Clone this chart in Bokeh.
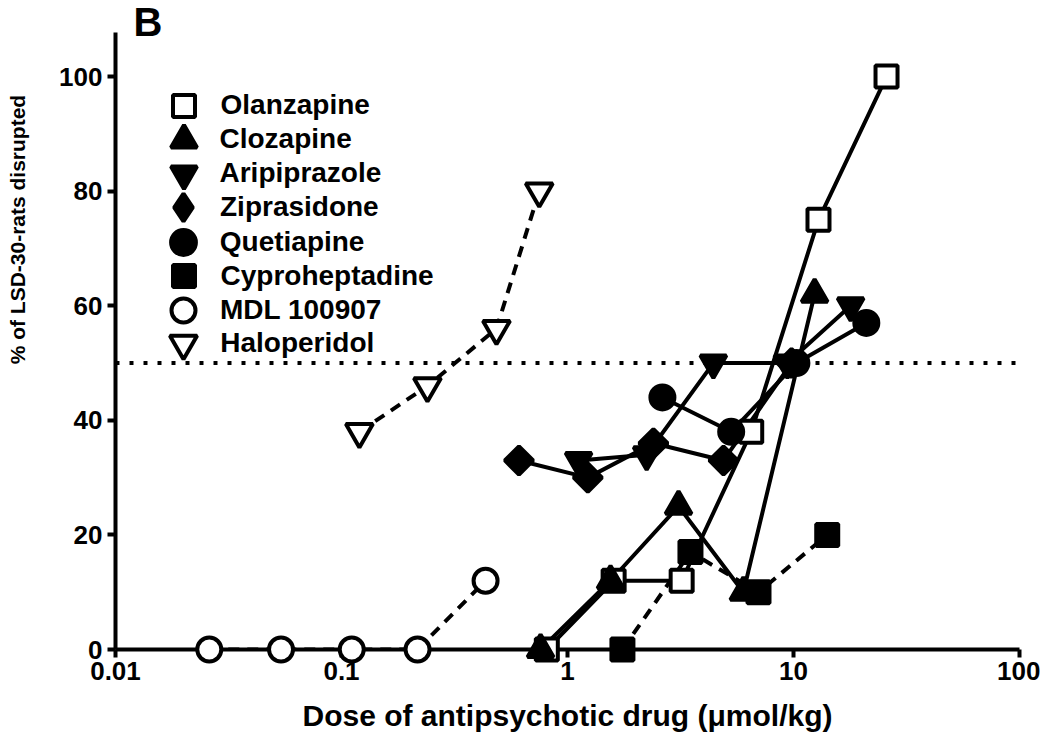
from math import pi
from bokeh.plotting import figure
from bokeh.models import (FixedTicker, CustomJSTickFormatter, Span, Legend,
                          LegendItem, Range1d, ColumnDataSource)
from bokeh.core.properties import value
from bokeh.embed import file_html
from bokeh.resources import INLINE

# ---------------- data ----------------
olanzapine_x = [0.81, 1.6, 3.2, 6.5, 12.9, 25.8]
olanzapine_y = [0, 12, 12, 38, 75, 100]
clozapine_x = [0.76, 1.55, 3.1, 6.0, 12.4]
clozapine_y = [0, 12, 25, 10, 62]
aripiprazole_x = [1.12, 2.24, 4.42, 9.4, 17.9]
aripiprazole_y = [33, 34, 50, 50, 60]
ziprasidone_x = [0.61, 1.23, 2.40, 4.9, 9.8]
ziprasidone_y = [33, 30, 36, 33, 50]
quetiapine_x = [2.63, 5.3, 10.3, 21.0]
quetiapine_y = [44, 38, 50, 57]
cyproheptadine_x = [1.75, 3.5, 7.0, 14.1]
cyproheptadine_y = [0, 17, 10, 20]
mdl_x = [0.026, 0.054, 0.111, 0.217, 0.434]
mdl_y = [0, 0, 0, 0, 12]
haloperidol_x = [0.12, 0.24, 0.485, 0.75]
haloperidol_y = [38, 46, 56, 80]

x_ticks = [0.01, 0.1, 1, 10, 100]
y_ticks = [0, 20, 40, 60, 80, 100]
threshold = 50

FONT = "Liberation Sans"

# name, xs, ys, marker, size, fill, dash, angle, legend marker, legend size
series = [
    ("Olanzapine", olanzapine_x, olanzapine_y, "square", 22, "white", "solid", 0, "square", 22),
    ("Clozapine", clozapine_x, clozapine_y, "triangle", 26, "black", "solid", 0, "triangle", 26),
    ("Aripiprazole", aripiprazole_x, aripiprazole_y, "inverted_triangle", 26, "black", "solid", 0,
     "inverted_triangle", 26),
    ("Ziprasidone", ziprasidone_x, ziprasidone_y, "square", 20, "black", "solid", pi / 4, "diamond", 28),
    ("Quetiapine", quetiapine_x, quetiapine_y, "circle", 24, "black", "solid", 0, "circle", 25),
    ("Cyproheptadine", cyproheptadine_x, cyproheptadine_y, "square", 22, "black", "11 8", 0, "square", 22),
    ("MDL 100907", mdl_x, mdl_y, "circle", 24, "white", "11 8", 0, "circle", 24),
    ("Haloperidol", haloperidol_x, haloperidol_y, "inverted_triangle", 27, "white", "11 8", 0,
     "inverted_triangle", 27),
]

W, H = 1040, 740
FL, FR, FT, FB = 115, 1019, 32, 649   # frame edges in canvas pixels

p = figure(width=W, height=H, x_axis_type="log",
           x_range=Range1d(0.01, 100), y_range=Range1d(0, 107.7),
           output_backend="svg", toolbar_location=None,
           min_border_left=FL, min_border_right=W - FR,
           min_border_top=FT, min_border_bottom=H - FB)
p.grid.visible = False
p.outline_line_color = None
p.background_fill_color = "white"
p.border_fill_color = "white"

# threshold line
p.add_layout(Span(location=threshold, dimension="width", line_color="black",
                  line_width=4, line_dash="4 10"))

for name, xs, ys, marker, size, fill, dash, ang, lmarker, lsize in series:
    src = ColumnDataSource(dict(x=xs, y=ys))
    p.line("x", "y", source=src, line_color="black", line_width=4, line_dash=dash)

LEG_X = 183          # key centre (px from canvas left)
LEG_Y0 = 105         # first key centre (px from canvas top)
LEG_DY = 34.1
TEXT_X = 220

for i, (name, xs, ys, marker, size, fill, dash, ang, lmarker, lsize) in enumerate(series):
    src = ColumnDataSource(dict(x=xs, y=ys))
    special = (lmarker != marker or ang != 0)
    if special:
        # legend key shape; drawn underneath (and hidden by) the plotted markers
        key = p.scatter("x", "y", source=src, marker=lmarker, size=lsize * 0.6,
                        fill_color=fill, line_color="black", line_width=4)
    sr = p.scatter("x", "y", source=src, marker=marker, size=size, angle=ang,
                   fill_color=fill, line_color="black", line_width=4)
    sr.level = "overlay"
    if not special:
        key = sr
    g = 2.5 * lsize
    cy = LEG_Y0 + LEG_DY * i
    leg = Legend(items=[LegendItem(label=name, renderers=[key])],
                 location=(LEG_X - g / 2 - FL, FB - (cy + g / 2)),
                 padding=0, margin=0, glyph_width=int(round(g)), glyph_height=int(round(g)),
                 label_standoff=max(0, int(round(TEXT_X - (LEG_X + g / 2)))),
                 label_text_font=FONT, label_text_font_style="bold",
                 label_text_font_size="28px", label_text_color="black",
                 background_fill_alpha=0, border_line_color=None)
    p.add_layout(leg)

for ax in (p.xaxis[0], p.yaxis[0]):
    ax.axis_line_width = 4
    ax.axis_line_color = "black"
    ax.major_tick_line_width = 4
    ax.major_tick_line_color = "black"
    ax.major_tick_out = 8
    ax.major_tick_in = 0
    ax.minor_tick_line_color = None
    ax.major_label_text_font = FONT
    ax.major_label_text_font_style = "bold"
    ax.major_label_text_font_size = "26px"
    ax.major_label_text_color = "black"

p.xaxis.ticker = FixedTicker(ticks=x_ticks, minor_ticks=[])
p.xaxis.formatter = CustomJSTickFormatter(code="return tick.toString();")
p.xaxis.major_label_standoff = 4
p.xaxis.axis_label = "Dose of antipsychotic drug (\u03bcmol/kg)"
p.xaxis.axis_label_text_font = FONT
p.xaxis.axis_label_text_font_style = "bold"
p.xaxis.axis_label_text_font_size = "30px"
p.xaxis.axis_label_text_color = "black"
p.xaxis.axis_label_standoff = 16

p.yaxis.ticker = FixedTicker(ticks=y_ticks, minor_ticks=[])
p.yaxis.major_label_standoff = 5

# y axis title (placed off-centre like the reference)
yt = p.text(x=[0.0037], y=[73.3], text=["% of LSD-30-rats disrupted"], angle=pi / 2,
            text_align="center", text_baseline="middle",
            text_font=value(FONT), text_font_style="bold", text_font_size="21px",
            text_color="black")
yt.level = "overlay"

# panel letter
bl = p.text(x=[0.0120], y=[109.6], text=["B"], text_align="left",
            text_baseline="alphabetic", text_font=value(FONT),
            text_font_style="bold", text_font_size="40px", text_color="black")
bl.level = "overlay"

open("out.html", "w").write(file_html(p, INLINE))
